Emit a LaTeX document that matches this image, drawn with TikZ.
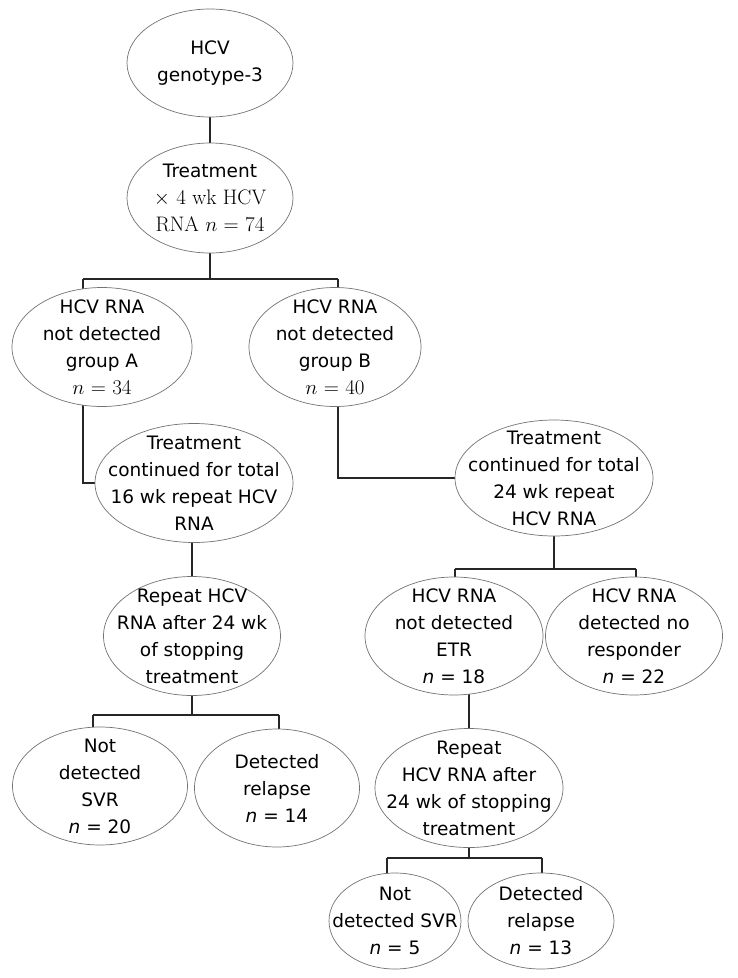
\documentclass[tikz,border=0pt]{standalone}
\usepackage{fontspec}
\newfontfamily\sansf{DejaVu Sans}
\newcommand\serifpart{\rmfamily\fontsize{21}{27}\selectfont}
\usetikzlibrary{shapes.geometric,backgrounds}
\tikzset{
  ell/.style={ellipse, draw=black!55, line width=0.7pt, fill=white, inner sep=0pt},
  txt/.style={align=center, inner sep=0pt, font=\sansf\fontsize{18.5}{27}\selectfont},
  sz/.style 2 args={minimum width=#1, minimum height=#2},
  conn/.style={draw=black!85, line width=1.1pt}
}
\begin{document}
\begin{tikzpicture}[x=1pt,y=-1pt]
\useasboundingbox (0,0) rectangle (737,978);
\node[ell, sz={166pt}{108pt}, label={[txt]center:{HCV\\genotype-3}}] (e1) at (210,63) {};
\node[ell, sz={166pt}{110pt}, label={[txt]center:{Treatment\\{\serifpart $\times$ 4 wk HCV}\\{\serifpart RNA $n$ = 74}}}] (e2) at (210,198) {};
\node[ell, sz={180pt}{119pt}, label={[txt]center:{HCV RNA\\not detected\\group A\\{\serifpart $n$ = 34}}}] (e3) at (102,347) {};
\node[ell, sz={172pt}{119pt}, label={[txt]center:{HCV RNA\\not detected\\group B\\{\serifpart $n$ = 40}}}] (e4) at (335,347) {};
\node[ell, sz={198pt}{119pt}, label={[txt]center:{Treatment\\continued for total\\16 wk repeat HCV\\RNA}}] (e5) at (194,483) {};
\node[ell, sz={198pt}{116pt}, label={[txt]center:{Treatment\\continued for total\\24 wk repeat\\HCV RNA}}] (e6) at (554,478) {};
\node[ell, sz={178pt}{118pt}, label={[txt]center:{HCV RNA\\not detected\\ETR\\\textit{n} = 18}}] (e7) at (454,636) {};
\node[ell, sz={177pt}{118pt}, label={[txt]center:{HCV RNA\\detected no\\responder\\\textit{n} = 22}}] (e8) at (634,636) {};
\node[ell, sz={177pt}{119pt}, label={[txt]center:{Repeat HCV\\RNA after 24 wk\\of stopping\\treatment}}] (e12) at (192,636) {};
\node[ell, sz={188pt}{119pt}, label={[txt]center:{Repeat\\HCV RNA after\\24 wk of stopping\\treatment}}] (e9) at (469,788) {};
\node[ell, sz={175pt}{118pt}, label={[txt]center:{Not\\detected\\SVR\\\textit{n} = 20}}] (e13) at (100,786) {};
\node[ell, sz={165pt}{118pt}, label={[txt]center:{Detected\\relapse\\\textit{n} = 14}}] (e14) at (277,788) {};
\node[ell, sz={132pt}{96pt}, label={[txt]center:{Not\\detected SVR\\\textit{n} = 5}}] (e10) at (395,921) {};
\node[ell, sz={146pt}{96pt}, label={[txt]center:{Detected\\relapse\\\textit{n} = 13}}] (e11) at (541,921) {};
\coordinate (bA) at (83,279);
\coordinate (bB) at (338,279);
\coordinate (b2L) at (455,569);
\coordinate (b2R) at (636,569);
\coordinate (b3L) at (93,715);
\coordinate (b3R) at (279,715);
\coordinate (b4L) at (387,858);
\coordinate (b4R) at (542,858);
\begin{pgfonlayer}{background}
\draw[conn] (e1.center) -- (e2.center);
\draw[conn] (e2.center) -- (e2.center |- bA);
\draw[conn] (bA) -- (bB);
\draw[conn] (bA) -- (bA |- e5.center) -- (e5.center);
\draw[conn] (bB) -- (bB |- e6.center) -- (e6.center);
\draw[conn] (e6.center) -- (e6.center |- b2L);
\draw[conn] (b2L) -- (b2R);
\draw[conn] (b2L) -- (b2L |- e7.center);
\draw[conn] (b2R) -- (b2R |- e8.center);
\draw[conn] (e12.center |- e5.center) -- (e12.center);
\draw[conn] (e12.center) -- (e12.center |- b3L);
\draw[conn] (b3L) -- (b3R);
\draw[conn] (b3L) -- (b3L |- e13.center);
\draw[conn] (b3R) -- (b3R |- e14.center);
\draw[conn] (e9.center |- e7.center) -- (e9.center);
\draw[conn] (e9.center) -- (e9.center |- b4L);
\draw[conn] (b4L) -- (b4R);
\draw[conn] (b4L) -- (b4L |- e10.center);
\draw[conn] (b4R) -- (b4R |- e11.center);
\end{pgfonlayer}
\end{tikzpicture}
\end{document}
